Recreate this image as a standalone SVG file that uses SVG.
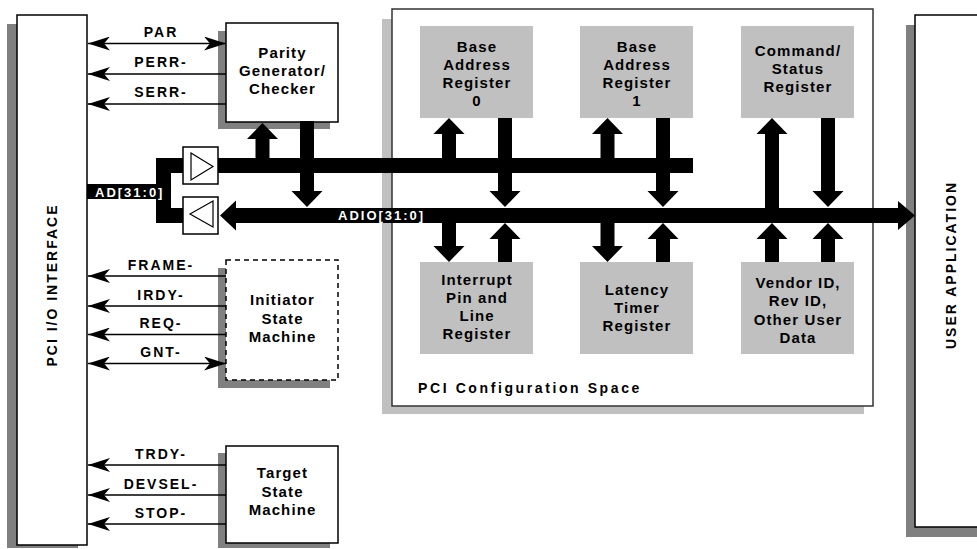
<svg xmlns="http://www.w3.org/2000/svg" width="977" height="549" viewBox="0 0 977 549">
<defs>
<style>
text{font-family:"Liberation Sans",Arial,sans-serif;font-weight:bold;fill:#000}
.bt{font-size:15px;letter-spacing:1.1px;text-anchor:middle}
.sig{font-size:14px;letter-spacing:2px;text-anchor:middle}
.vt{font-size:14px;letter-spacing:2px;text-anchor:middle}
.sh{fill:#808080}
.sh2{fill:#c0c0c0}
.box{fill:#fff;stroke:#000;stroke-width:1.5}
.reg{fill:#c0c0c0}
.line{stroke:#000;stroke-width:1.5;fill:none}
.bus{fill:#000}
.wt{fill:#fff;font-size:13px;letter-spacing:2px}
</style>
<marker id="barb" markerUnits="userSpaceOnUse" viewBox="0 0 22 14" refX="22" refY="7" markerWidth="22" markerHeight="14" orient="auto-start-reverse">
<path d="M0,0 L22,7 L0,14 L6,7 Z" fill="#000"/>
</marker>
</defs>
<rect width="977" height="549" fill="#fff"/>

<g id="pci-io">
<rect class="sh" x="7" y="24" width="71" height="524"/>
<rect class="box" x="17" y="15" width="70" height="530"/>
<text class="vt" transform="translate(57,285) rotate(-90)">PCI I/O INTERFACE</text>
</g>

<g id="user-app">
<rect class="sh" x="906" y="25" width="80" height="512"/>
<rect class="box" x="915" y="15" width="80" height="512"/>
<text class="vt" transform="translate(956,265) rotate(-90)">USER APPLICATION</text>
</g>

<g id="config-space">
<rect class="sh2" x="382" y="19" width="482" height="395"/>
<rect x="392" y="9" width="481" height="397" fill="#fff" stroke="#333" stroke-width="1.5"/>
<text x="418" y="393" style="font-size:14px;letter-spacing:2.6px">PCI Configuration Space</text>
</g>

<g id="parity">
<rect class="sh" x="218" y="31" width="112" height="98"/>
<rect class="box" x="226" y="23" width="112" height="99"/>
<text class="bt" x="282.5" y="58">Parity</text>
<text class="bt" x="282.5" y="76">Generator/</text>
<text class="bt" x="282.5" y="94">Checker</text>
</g>

<g id="initiator">
<rect class="sh" x="218" y="268" width="112" height="120"/>
<rect x="226" y="260" width="112" height="120" fill="#fff" stroke="#000" stroke-width="1.5" stroke-dasharray="5,4"/>
<text class="bt" x="282.5" y="305">Initiator</text>
<text class="bt" x="282.5" y="323.5">State</text>
<text class="bt" x="282.5" y="342">Machine</text>
</g>

<g id="target">
<rect class="sh" x="218" y="453" width="112" height="95"/>
<rect class="box" x="226" y="446" width="112" height="97"/>
<text class="bt" x="282.5" y="478">Target</text>
<text class="bt" x="282.5" y="496.5">State</text>
<text class="bt" x="282.5" y="515">Machine</text>
</g>

<g id="bar0">
<rect class="reg" x="420" y="26" width="113" height="92"/>
<text class="bt" x="477" y="52">Base</text>
<text class="bt" x="477" y="70">Address</text>
<text class="bt" x="477" y="88">Register</text>
<text class="bt" x="477" y="106">0</text>
</g>

<g id="bar1">
<rect class="reg" x="580" y="26" width="113" height="92"/>
<text class="bt" x="637" y="52">Base</text>
<text class="bt" x="637" y="70">Address</text>
<text class="bt" x="637" y="88">Register</text>
<text class="bt" x="637" y="106">1</text>
</g>

<g id="cmd-status">
<rect class="reg" x="741" y="26" width="113" height="92"/>
<text class="bt" x="798" y="56">Command/</text>
<text class="bt" x="798" y="74">Status</text>
<text class="bt" x="798" y="92">Register</text>
</g>

<g id="interrupt">
<rect class="reg" x="420" y="262" width="113" height="92"/>
<text class="bt" x="477" y="285">Interrupt</text>
<text class="bt" x="477" y="303">Pin and</text>
<text class="bt" x="477" y="321">Line</text>
<text class="bt" x="477" y="339">Register</text>
</g>

<g id="latency">
<rect class="reg" x="580" y="262" width="113" height="92"/>
<text class="bt" x="637" y="295">Latency</text>
<text class="bt" x="637" y="313">Timer</text>
<text class="bt" x="637" y="331">Register</text>
</g>

<g id="vendor">
<rect class="reg" x="741" y="262" width="113" height="92"/>
<text class="bt" x="798" y="288">Vendor ID,</text>
<text class="bt" x="798" y="306">Rev ID,</text>
<text class="bt" x="798" y="325">Other User</text>
<text class="bt" x="798" y="343">Data</text>
</g>

<g id="connectors">
<line class="line" x1="226" y1="43.5" x2="88" y2="43.5" marker-start="url(#barb)" marker-end="url(#barb)"/>
<line class="line" x1="226" y1="74" x2="88" y2="74" marker-end="url(#barb)"/>
<line class="line" x1="226" y1="104" x2="88" y2="104" marker-end="url(#barb)"/>
<line class="line" x1="226" y1="276" x2="88" y2="276" marker-end="url(#barb)"/>
<line class="line" x1="226" y1="306" x2="88" y2="306" marker-end="url(#barb)"/>
<line class="line" x1="226" y1="334.5" x2="88" y2="334.5" marker-end="url(#barb)"/>
<line class="line" x1="226" y1="363.5" x2="88" y2="363.5" marker-start="url(#barb)" marker-end="url(#barb)"/>
<line class="line" x1="226" y1="465" x2="88" y2="465" marker-end="url(#barb)"/>
<line class="line" x1="226" y1="495" x2="88" y2="495" marker-end="url(#barb)"/>
<line class="line" x1="226" y1="524" x2="88" y2="524" marker-end="url(#barb)"/>
<text class="sig" x="161" y="37">PAR</text>
<text class="sig" x="161" y="67">PERR-</text>
<text class="sig" x="161" y="97">SERR-</text>
<text class="sig" x="161" y="270">FRAME-</text>
<text class="sig" x="161" y="300">IRDY-</text>
<text class="sig" x="161" y="328">REQ-</text>
<text class="sig" x="161" y="357">GNT-</text>
<text class="sig" x="161" y="459">TRDY-</text>
<text class="sig" x="161" y="489">DEVSEL-</text>
<text class="sig" x="161" y="518">STOP-</text>

<polygon class="bus" points="156,158 183,158 183,173 171,173 171,208 183,208 183,223 156,223"/>
<rect class="bus" x="87" y="184" width="84" height="15"/>
<text class="wt" x="95" y="197">AD[31:0]</text>
<rect class="bus" x="218" y="158" width="475" height="15"/>
<polygon class="bus" points="220,215.5 236,200.5 236,208 898,208 898,201 915,215.5 898,230 898,223 236,223 236,230.5"/>
<text class="wt" x="338" y="220">ADIO[31:0]</text>

<rect class="box" x="183" y="147" width="35" height="37"/>
<polygon points="191,153 213,166.5 191,180" fill="none" stroke="#000" stroke-width="1.2"/>
<rect class="box" x="183" y="197" width="35" height="37"/>
<polygon points="190,214 213,201 213,227" fill="none" stroke="#000" stroke-width="1.2"/>

<polygon class="bus" points="255.5,160 255.5,139 247,139 262.5,123 278,139 269.5,139 269.5,160"/>
<polygon class="bus" points="300,121 300,191 291.5,191 307,207 322.5,191 314,191 314,121"/>
<polygon class="bus" points="442,160 442,134 433.5,134 449,118 464.5,134 456,134 456,160"/>
<polygon class="bus" points="498,118 498,191 489.5,191 505,207 520.5,191 512,191 512,118"/>
<polygon class="bus" points="600.5,160 600.5,134 592,134 607.5,118 623,134 614.5,134 614.5,160"/>
<polygon class="bus" points="656,118 656,191 647.5,191 663,207 678.5,191 670,191 670,118"/>
<polygon class="bus" points="765,210 765,134 756.5,134 772,118 787.5,134 779,134 779,210"/>
<polygon class="bus" points="821,118 821,191 812.5,191 828,207 843.5,191 835,191 835,118"/>
<polygon class="bus" points="442,221 442,246 433.5,246 449,262 464.5,246 456,246 456,221"/>
<polygon class="bus" points="498,262 498,239 489.5,239 505,223 520.5,239 512,239 512,262"/>
<polygon class="bus" points="600.5,221 600.5,246 592,246 607.5,262 623,246 614.5,246 614.5,221"/>
<polygon class="bus" points="656,262 656,239 647.5,239 663,223 678.5,239 670,239 670,262"/>
<polygon class="bus" points="765,262 765,239 756.5,239 772,223 787.5,239 779,239 779,262"/>
<polygon class="bus" points="821,262 821,239 812.5,239 828,223 843.5,239 835,239 835,262"/>
</g>
</svg>
